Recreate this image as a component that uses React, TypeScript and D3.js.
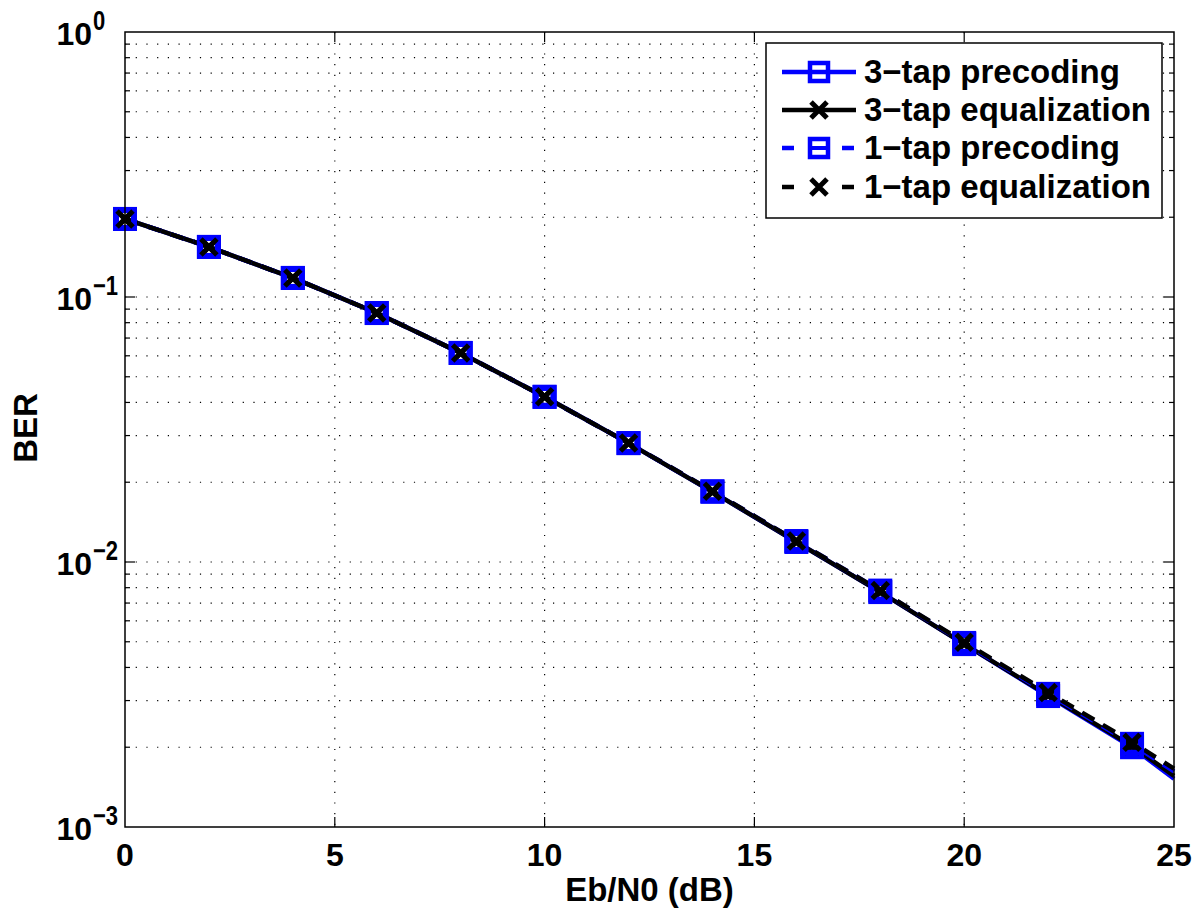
import React, { useEffect, useRef } from 'react';
import * as d3 from 'd3';

// Eb/N0 in dB (markers at the even values, line runs to 25)
const ebn0 = [0, 2, 4, 6, 8, 10, 12, 14, 16, 18, 20, 22, 24, 25];

const precoding3 = [0.197, 0.1545, 0.118, 0.087, 0.0615, 0.042, 0.0281, 0.0184, 0.0119, 0.0077, 0.0049, 0.00312, 0.00200, 0.00152];
const equalization3 = [0.197, 0.1545, 0.118, 0.087, 0.0615, 0.042, 0.0281, 0.0184, 0.0119, 0.0077, 0.0049, 0.00314, 0.00202, 0.00156];
const precoding1 = [0.197, 0.1545, 0.118, 0.087, 0.0615, 0.042, 0.0281, 0.0185, 0.0120, 0.0078, 0.00495, 0.00318, 0.00206, 0.00162];
const equalization1 = [0.197, 0.1545, 0.118, 0.087, 0.0615, 0.042, 0.0281, 0.0185, 0.0120, 0.0078, 0.00498, 0.00322, 0.00209, 0.00166];

const xTicks = [0, 5, 10, 15, 20, 25];
const yDecades = [0, -1, -2, -3];

const seriesNames = ['3\u2212tap precoding', '3\u2212tap equalization', '1\u2212tap precoding', '1\u2212tap equalization'];

const W = 1200, H = 918;
const m = { left: 125, top: 32, right: 1174, bottom: 827 };
const FONT = '"Liberation Sans", Arial, Helvetica, sans-serif';

function Chart() {
  const ref = useRef<SVGSVGElement>(null);

  useEffect(() => {
    const svg = d3.select(ref.current);
    svg.selectAll('*').remove();

    const x = d3.scaleLinear().domain([0, 25]).range([m.left, m.right]);
    const y = d3.scaleLog().domain([1e-3, 1]).range([m.bottom, m.top]);

    svg.append('rect').attr('width', W).attr('height', H).attr('fill', '#fff');

    const g = svg.append('g');

    // every y tick value inside the decades 10^-3 .. 10^0
    const yTickVals: number[] = [];
    for (let e = -3; e < 0; e++) {
      for (let k = 1; k <= 9; k++) yTickVals.push(k * Math.pow(10, e));
    }
    const innerY = yTickVals.filter(v => v > 1e-3 && v < 1);

    // dotted grid
    g.selectAll('.gx')
      .data(xTicks.slice(1, -1))
      .enter()
      .append('line')
      .attr('x1', d => x(d)).attr('x2', d => x(d))
      .attr('y1', m.top).attr('y2', m.bottom)
      .attr('stroke', '#000').attr('stroke-width', 1.2)
      .attr('stroke-dasharray', '1.2,9.5');

    g.selectAll('.gy')
      .data(innerY)
      .enter()
      .append('line')
      .attr('x1', m.left).attr('x2', m.right)
      .attr('y1', d => y(d)).attr('y2', d => y(d))
      .attr('stroke', '#000').attr('stroke-width', 1.2)
      .attr('stroke-dasharray', '1.2,9.5');

    // ticks (inside, on all four sides)
    xTicks.slice(1, -1).forEach(t => {
      g.append('line').attr('x1', x(t)).attr('x2', x(t)).attr('y1', m.bottom).attr('y2', m.bottom - 10).attr('stroke', '#000').attr('stroke-width', 1.2);
      g.append('line').attr('x1', x(t)).attr('x2', x(t)).attr('y1', m.top).attr('y2', m.top + 10).attr('stroke', '#000').attr('stroke-width', 1.2);
    });
    innerY.forEach(v => {
      const major = Math.abs(Math.log10(v) - Math.round(Math.log10(v))) < 1e-9;
      const len = major ? 10 : 5;
      g.append('line').attr('x1', m.left).attr('x2', m.left + len).attr('y1', y(v)).attr('y2', y(v)).attr('stroke', '#000').attr('stroke-width', 1.2);
      g.append('line').attr('x1', m.right).attr('x2', m.right - len).attr('y1', y(v)).attr('y2', y(v)).attr('stroke', '#000').attr('stroke-width', 1.2);
    });

    // tick labels
    g.selectAll('.xl')
      .data(xTicks)
      .enter()
      .append('text')
      .attr('x', d => x(d)).attr('y', m.bottom + 39)
      .attr('text-anchor', 'middle')
      .style('font-family', FONT).style('font-weight', 'bold').style('font-size', '32px')
      .text(d => d);

    yDecades.forEach(e => {
      const yy = y(Math.pow(10, e));
      g.append('text')
        .attr('x', 92).attr('y', yy + 13)
        .attr('text-anchor', 'end')
        .style('font-family', FONT).style('font-weight', 'bold').style('font-size', '32px')
        .text('10');
      g.append('text')
        .attr('transform', `translate(93, ${yy - 2}) scale(1, 1.25)`)
        .style('font-family', FONT).style('font-weight', 'bold').style('font-size', '22px')
        .text(e === 0 ? '0' : '\u2212' + Math.abs(e));
    });

    // axis labels
    g.append('text')
      .attr('x', x(12.5)).attr('y', 901)
      .attr('text-anchor', 'middle')
      .style('font-family', FONT).style('font-weight', 'bold').style('font-size', '33px')
      .text('Eb/N0 (dB)');
    g.append('text')
      .attr('transform', `translate(37, 428) rotate(-90)`)
      .attr('text-anchor', 'middle')
      .style('font-family', FONT).style('font-weight', 'bold').style('font-size', '33px')
      .text('BER');

    // curves
    const line = d3.line<number>()
      .x((_, i) => x(ebn0[i]))
      .y(d => y(d));

    const curves = [
      { data: precoding3, color: '#0000ff', dash: null, marker: 'square' },
      { data: equalization3, color: '#000', dash: null, marker: 'cross' },
      { data: precoding1, color: '#0000ff', dash: '14,10', marker: 'square' },
      { data: equalization1, color: '#000', dash: '14,10', marker: 'cross' },
    ];

    const plot = g.append('g');
    curves.forEach(c => {
      plot.append('path')
        .attr('d', line(c.data))
        .attr('fill', 'none')
        .attr('stroke', c.color)
        .attr('stroke-width', 4.5)
        .attr('stroke-dasharray', c.dash);
    });

    const drawMarker = (sel: any, kind: string, cx: number, cy: number, size: number) => {
      if (kind === 'square') {
        sel.append('rect')
          .attr('x', cx - size / 2).attr('y', cy - size / 2).attr('width', size).attr('height', size)
          .attr('fill', 'none').attr('stroke', '#0000ff').attr('stroke-width', 6);
      } else {
        const s = 8;
        sel.append('path')
          .attr('d', `M${cx - s},${cy - s}L${cx + s},${cy + s}M${cx - s},${cy + s}L${cx + s},${cy - s}`)
          .attr('stroke', '#000').attr('stroke-width', 5).attr('fill', 'none');
      }
    };

    curves.forEach(c => {
      const mg = plot.append('g');
      c.data.forEach((v, i) => {
        if (ebn0[i] % 2 === 0) drawMarker(mg, c.marker, x(ebn0[i]), y(v), 18);
      });
    });

    // axes box
    g.append('rect')
      .attr('x', m.left).attr('y', m.top)
      .attr('width', m.right - m.left).attr('height', m.bottom - m.top)
      .attr('fill', 'none').attr('stroke', '#000').attr('stroke-width', 1.5);

    // legend
    const lg = g.append('g');
    lg.append('rect')
      .attr('x', 766).attr('y', 43).attr('width', 396).attr('height', 175)
      .attr('fill', '#fff').attr('stroke', '#000').attr('stroke-width', 1.5);
    const rowY = [72, 110, 148, 187];
    curves.forEach((c, i) => {
      const ly = rowY[i];
      if (c.dash) {
        lg.append('line').attr('x1', 782).attr('x2', 794).attr('y1', ly).attr('y2', ly).attr('stroke', c.color).attr('stroke-width', 4.5);
        lg.append('line').attr('x1', 842).attr('x2', 854).attr('y1', ly).attr('y2', ly).attr('stroke', c.color).attr('stroke-width', 4.5);
      } else {
        lg.append('line').attr('x1', 782).attr('x2', 856).attr('y1', ly).attr('y2', ly).attr('stroke', c.color).attr('stroke-width', 4.5);
      }
      const mk = lg.append('g');
      if (c.marker === 'square') {
        mk.append('rect').attr('x', 819 - 9).attr('y', ly - 9).attr('width', 18).attr('height', 18)
          .attr('fill', 'none').attr('stroke', '#0000ff').attr('stroke-width', 4.5);
        mk.append('line').attr('x1', 810).attr('x2', 828).attr('y1', ly).attr('y2', ly)
          .attr('stroke', '#0000ff').attr('stroke-width', 4);
      } else {
        drawMarker(mk, 'cross', 819, ly, 18);
      }
      lg.append('text')
        .attr('x', 864).attr('y', ly + 11)
        .style('font-family', FONT).style('font-weight', 'bold').style('font-size', '33px')
        .text(seriesNames[i]);
    });
  }, []);

  return <svg ref={ref} width={W} height={H} style={{ display: 'block' }} />;
}

export default function App() {
  return (
    <div style={{ margin: -8 }}>
      <Chart />
    </div>
  );
}
